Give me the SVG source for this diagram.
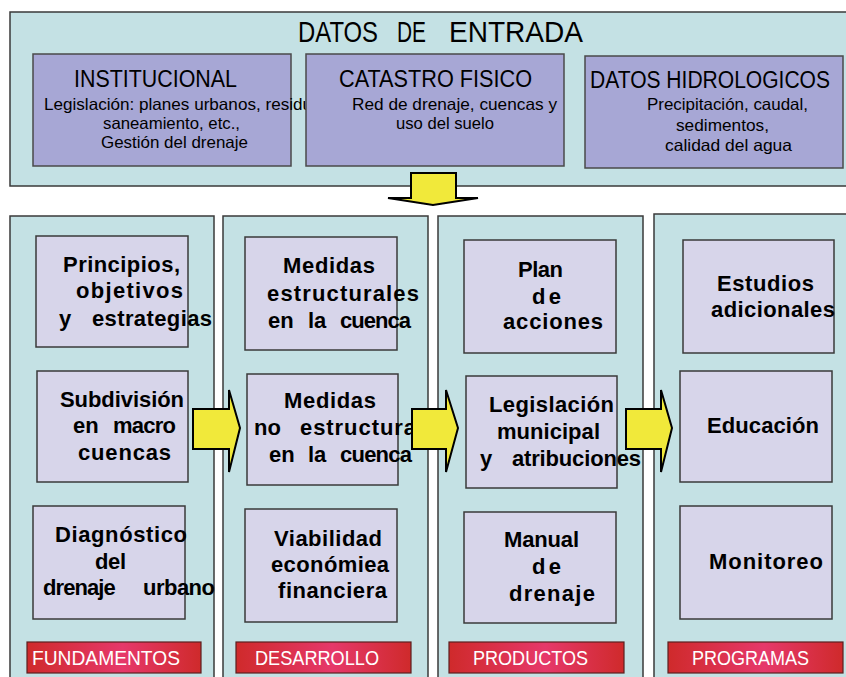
<svg xmlns="http://www.w3.org/2000/svg" width="846" height="677" viewBox="0 0 846 677">
<defs>
  <linearGradient id="redg" x1="0" y1="0" x2="1" y2="0">
    <stop offset="0" stop-color="#cf2a2b"/>
    <stop offset="0.55" stop-color="#e6386a"/>
    <stop offset="1" stop-color="#cf2a2b"/>
  </linearGradient>
  <style>
    .panel{fill:#c4e1e4;stroke:#3a3a3a;stroke-width:1.5}
    .topbox{fill:#a7a7d5;stroke:#4a4a4a;stroke-width:1.5}
    .box{fill:#d7d5ea;stroke:#3a3a3a;stroke-width:1.5}
    .lbl{fill:url(#redg);stroke:#5a2020;stroke-width:1.2}
    .lt{font-family:"Liberation Sans",Arial,sans-serif;font-size:21px;fill:#fff}
    .t{font-family:"Liberation Sans",Arial,sans-serif;fill:#000}
    .title{font-size:30px}
    .h{font-size:23px}
    .s{font-size:16.5px}
    .b{font-family:"Liberation Sans",Arial,sans-serif;font-weight:bold;font-size:22px;fill:#000}
    .arrow{fill:#f1e93a;stroke:#000;stroke-width:2;stroke-linejoin:miter}
  </style>
</defs>
<rect width="846" height="677" fill="#ffffff"/>

<g id="datos-entrada">
  <rect class="panel" x="10" y="12" width="845" height="174"/>
  <text class="t title" y="42"><tspan x="298" textLength="80" lengthAdjust="spacingAndGlyphs">DATOS</tspan><tspan x="397" textLength="29" lengthAdjust="spacingAndGlyphs">DE</tspan><tspan x="449" textLength="134" lengthAdjust="spacingAndGlyphs">ENTRADA</tspan></text>
</g>

<g id="institucional">
  <rect class="topbox" x="33" y="54" width="258" height="112"/>
  <text class="t h" x="74" y="87" textLength="163" lengthAdjust="spacingAndGlyphs">INSTITUCIONAL</text>
  <text class="t s" x="44" y="110" textLength="268" lengthAdjust="spacingAndGlyphs">Legislación: planes urbanos, residu</text>
  <text class="t s" x="103" y="129" textLength="137" lengthAdjust="spacingAndGlyphs">saneamiento, etc.,</text>
  <text class="t s" x="101" y="148" textLength="147" lengthAdjust="spacingAndGlyphs">Gestión del drenaje</text>
</g>

<g id="catastro">
  <rect class="topbox" x="306" y="54" width="258" height="112"/>
  <text class="t h" x="339" y="87" textLength="193" lengthAdjust="spacingAndGlyphs">CATASTRO  FISICO</text>
  <text class="t s" x="352" y="110" textLength="205" lengthAdjust="spacingAndGlyphs">Red de drenaje, cuencas y</text>
  <text class="t s" x="396" y="129" textLength="98" lengthAdjust="spacingAndGlyphs">uso del suelo</text>
</g>

<g id="hidrologicos">
  <rect class="topbox" x="585" y="56" width="258" height="112"/>
  <text class="t h" x="590" y="88" textLength="240" lengthAdjust="spacingAndGlyphs">DATOS  HIDROLOGICOS</text>
  <text class="t s" x="647" y="110" textLength="161" lengthAdjust="spacingAndGlyphs">Precipitación, caudal,</text>
  <text class="t s" x="676" y="131" textLength="93" lengthAdjust="spacingAndGlyphs">sedimentos,</text>
  <text class="t s" x="665" y="151" textLength="127" lengthAdjust="spacingAndGlyphs">calidad del agua</text>
</g>

<g id="col-fundamentos">
  <rect class="panel" x="10" y="216" width="204" height="470"/>
  <rect class="lbl" x="27" y="642" width="174" height="31"/>
  <text class="lt" x="32" y="665" textLength="148" lengthAdjust="spacingAndGlyphs">FUNDAMENTOS</text>
</g>
<g id="col-desarrollo">
  <rect class="panel" x="223" y="216" width="205" height="470"/>
  <rect class="lbl" x="236" y="642" width="175" height="31"/>
  <text class="lt" x="255" y="665" textLength="124" lengthAdjust="spacingAndGlyphs">DESARROLLO</text>
</g>
<g id="col-productos">
  <rect class="panel" x="438" y="216" width="205" height="470"/>
  <rect class="lbl" x="449" y="642" width="175" height="31"/>
  <text class="lt" x="473" y="665" textLength="115" lengthAdjust="spacingAndGlyphs">PRODUCTOS</text>
</g>
<g id="col-programas">
  <rect class="panel" x="654" y="214" width="200" height="470"/>
  <rect class="lbl" x="668" y="642" width="175" height="31"/>
  <text class="lt" x="692" y="665" textLength="117" lengthAdjust="spacingAndGlyphs">PROGRAMAS</text>
</g>

<g id="principios">
  <rect class="box" x="36" y="236" width="152" height="111"/>
  <text class="b" x="63" y="272" textLength="117">Principios,</text>
  <text class="b" x="76" y="298" textLength="107">objetivos</text>
  <text class="b" y="326"><tspan x="59">y </tspan><tspan x="92" textLength="120">estrategias</tspan></text>
</g>
<g id="subdivision">
  <rect class="box" x="37" y="371" width="151" height="111"/>
  <text class="b" x="60" y="407" textLength="124">Subdivisión</text>
  <text class="b" y="433"><tspan x="73">en </tspan><tspan x="113" textLength="63">macro</tspan></text>
  <text class="b" x="78" y="460" textLength="93">cuencas</text>
</g>
<g id="diagnostico">
  <rect class="box" x="33" y="506" width="152" height="113"/>
  <text class="b" x="55" y="542" textLength="132">Diagnóstico</text>
  <text class="b" x="95" y="569" textLength="31">del</text>
  <text class="b" y="595"><tspan x="43" textLength="78">drenaje </tspan><tspan x="143" textLength="72">urbano</tspan></text>
</g>

<g id="medidas-estructurales">
  <rect class="box" x="245" y="237" width="152" height="113"/>
  <text class="b" x="283" y="273" textLength="92">Medidas</text>
  <text class="b" x="267" y="301" textLength="152">estructurales</text>
  <text class="b" y="328"><tspan x="268">en </tspan><tspan x="308">la </tspan><tspan x="340" textLength="71">cuenca</tspan></text>
</g>
<g id="medidas-no-estructurales">
  <rect class="box" x="247" y="374" width="151" height="111"/>
  <text class="b" x="284" y="408" textLength="92">Medidas</text>
  <text class="b" y="435"><tspan x="254">no </tspan><tspan x="300" textLength="116">estructura</tspan></text>
  <text class="b" y="462"><tspan x="269">en </tspan><tspan x="308">la </tspan><tspan x="340" textLength="72">cuenca</tspan></text>
</g>
<g id="viabilidad">
  <rect class="box" x="245" y="509" width="152" height="113"/>
  <text class="b" x="274" y="546" textLength="108">Viabilidad</text>
  <text class="b" x="271" y="572" textLength="118">económiea</text>
  <text class="b" x="278" y="598" textLength="109">financiera</text>
</g>

<g id="plan-acciones">
  <rect class="box" x="464" y="240" width="152" height="113"/>
  <text class="b" x="518" y="277" textLength="45">Plan</text>
  <text class="b" x="532" y="304" textLength="29">d e</text>
  <text class="b" x="503" y="329" textLength="100">acciones</text>
</g>
<g id="legislacion-municipal">
  <rect class="box" x="466" y="376" width="151" height="112"/>
  <text class="b" x="489" y="412" textLength="125">Legislación</text>
  <text class="b" x="497" y="439" textLength="103">municipal</text>
  <text class="b" y="466"><tspan x="480">y </tspan><tspan x="512" textLength="129">atribuciones</tspan></text>
</g>
<g id="manual-drenaje">
  <rect class="box" x="464" y="512" width="152" height="111"/>
  <text class="b" x="504" y="547" textLength="75">Manual</text>
  <text class="b" x="532" y="574" textLength="29">d e</text>
  <text class="b" x="509" y="601" textLength="86">drenaje</text>
</g>

<g id="estudios-adicionales">
  <rect class="box" x="683" y="240" width="151" height="113"/>
  <text class="b" x="717" y="291" textLength="97">Estudios</text>
  <text class="b" x="711" y="317" textLength="124">adicionales</text>
</g>
<g id="educacion">
  <rect class="box" x="680" y="371" width="152" height="111"/>
  <text class="b" x="707" y="433" textLength="112">Educación</text>
</g>
<g id="monitoreo">
  <rect class="box" x="680" y="506" width="152" height="113"/>
  <text class="b" x="709" y="569" textLength="114">Monitoreo</text>
</g>

<g id="connectors">
  <polygon class="arrow" points="411,173 456,173 456,198 478,198 433,205 388,198 411,198" stroke-width="1.5"/>
  <polygon class="arrow" points="193,409 229,409 229,390 240,428 229,472 229,449 193,449"/>
  <polygon class="arrow" points="412,409 446,409 446,390 458,428 446,472 446,449 412,449"/>
  <polygon class="arrow" points="626,409 661,409 661,390 672,428 661,472 661,449 626,449"/>
</g>
</svg>
